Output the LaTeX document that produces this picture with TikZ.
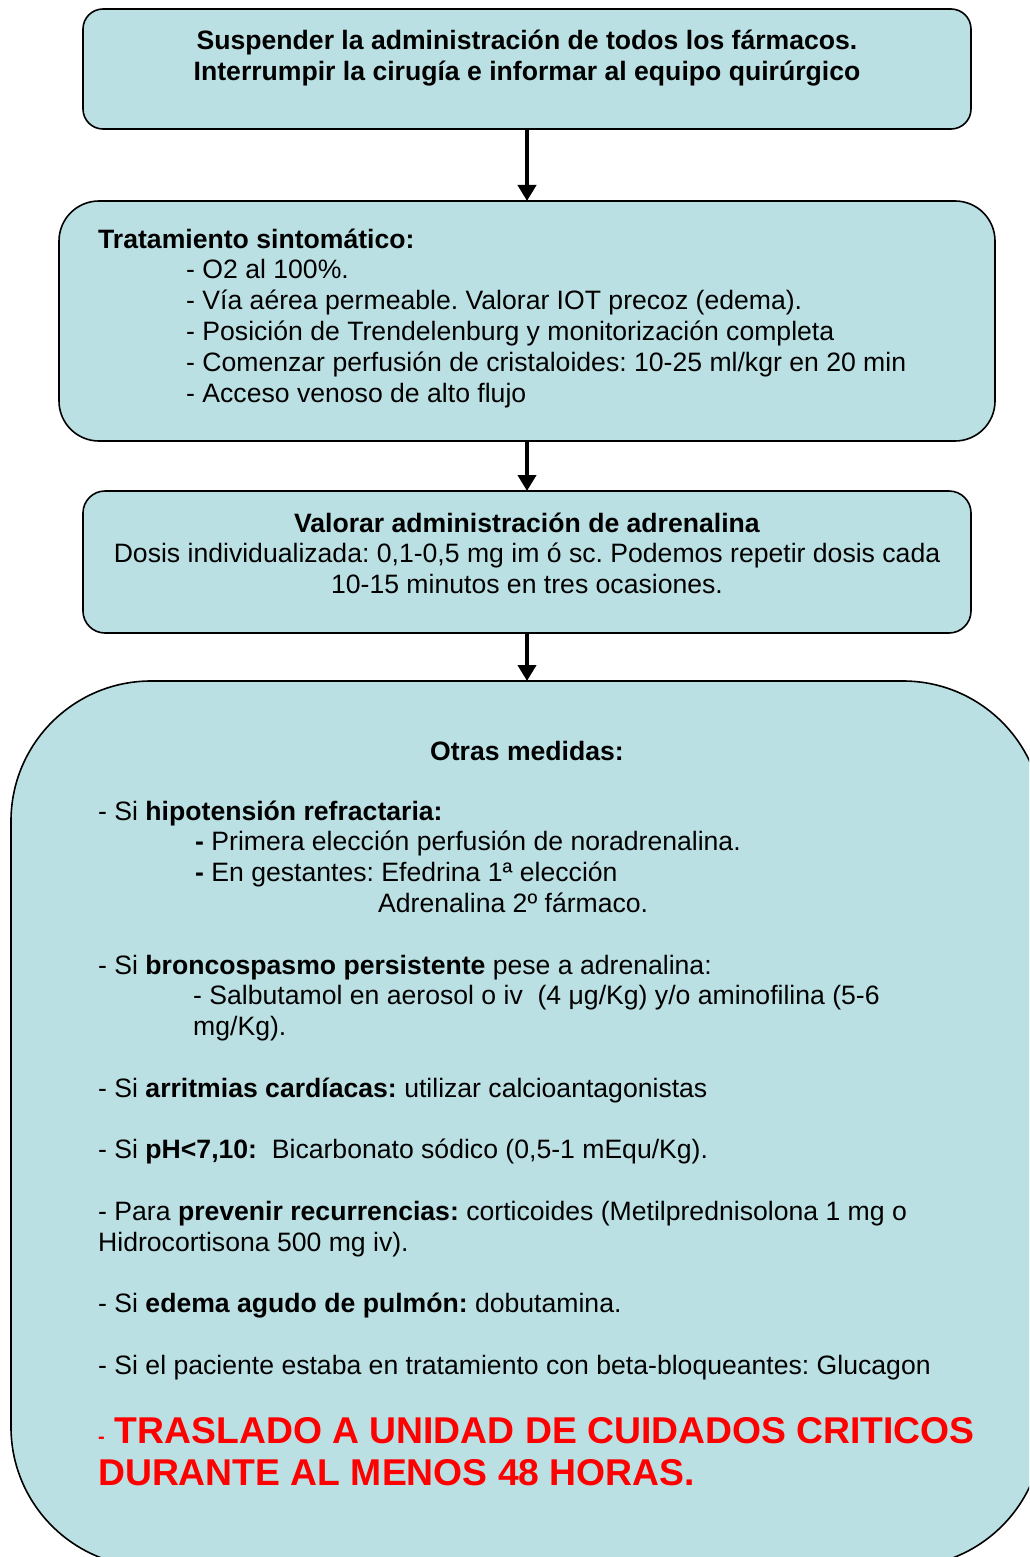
\documentclass[tikz,border=0pt]{standalone}
\usepackage{fontspec}
\setmainfont{Liberation Sans}
\usetikzlibrary{arrows.meta}
\frenchspacing

\begin{document}
\begin{tikzpicture}[x=1pt, y=-1pt,
    caja/.style={draw=black, line width=1.6pt, fill=caja_blue, inner sep=0pt, outer sep=0pt},
    texto/.style={inner sep=0pt, font=\fontsize{26.6}{30.8}\selectfont},
    flecha/.style={line width=4.5pt, -{Triangle[width=18pt,length=16pt]}}]
    \definecolor{caja_blue}{HTML}{BBE0E3}
    \definecolor{aviso_red}{HTML}{FF0000}
    %\draw[help lines] (0,0) grid (1029,1557);
    \useasboundingbox (0,0) rectangle (1029,1557);
    \clip (0,0) rectangle (1029,1557);

    % cajas
    \node[caja, rounded corners=20pt, minimum width=888pt, minimum height=120pt] (paso1) at (527,69) {};
    \node[caja, rounded corners=40pt, minimum width=936pt, minimum height=240pt] (paso2) at (527,321) {};
    \node[caja, rounded corners=22pt, minimum width=888pt, minimum height=142pt] (paso3) at (527,562) {};
    \node[caja, rounded corners=140pt, minimum width=1032pt, minimum height=886pt] (paso4) at (527,1124) {};

    \node[texto, anchor=base] (suspender) at (527,50) {
        \begin{tabular}[t]{@{}c@{}}
            \textbf{Suspender la administración de todos los fármacos.} \\
            \textbf{Interrumpir la cirugía e informar al equipo quirúrgico}
        \end{tabular}
    };
    \node[texto, anchor=base west] (sintomatico) at (98,248) {
        \begin{tabular}[t]{@{}l@{}}
            \textbf{Tratamiento sintomático:} \\
            \hspace*{88pt}- O2 al 100\%. \\
            \hspace*{88pt}- Vía aérea permeable. Valorar IOT precoz (edema). \\
            \hspace*{88pt}- Posición de Trendelenburg y monitorización completa \\
            \hspace*{88pt}- Comenzar perfusión de cristaloides: 10-25 ml/kgr en 20 min \\
            \hspace*{88pt}- Acceso venoso de alto flujo
        \end{tabular}
    };
    \node[texto, anchor=base] (adrenalina) at (527,532) {
        \begin{tabular}[t]{@{}c@{}}
            \textbf{Valorar administración de adrenalina} \\
            Dosis individualizada: 0,1-0,5 mg im ó sc. Podemos repetir dosis cada \\
            10-15 minutos en tres ocasiones.
        \end{tabular}
    };
    \node[texto, anchor=base] (otras) at (527,760) {\textbf{Otras medidas:}};
    \node[texto, anchor=base west] (medidas) at (98,820) {
        \begin{tabular}[t]{@{}l@{}}
            - Si \textbf{hipotensión refractaria:} \\
            \hspace*{97pt}\textbf{-} Primera elección perfusión de noradrenalina. \\
            \hspace*{97pt}\textbf{-} En gestantes: Efedrina 1ª elección \\
            \hspace*{280pt}Adrenalina 2º fármaco. \\
            \\
            - Si \textbf{broncospasmo persistente} pese a adrenalina: \\
            \hspace*{95pt}- Salbutamol en aerosol o iv\ \ (4 μg/Kg) y/o aminofilina (5-6 \\
            \hspace*{95pt}mg/Kg). \\
            \\
            - Si \textbf{arritmias cardíacas:} utilizar calcioantagonistas \\
            \\
            - Si \textbf{pH<7,10:}\ \ Bicarbonato sódico (0,5-1 mEqu/Kg). \\
            \\
            - Para \textbf{prevenir recurrencias:} corticoides (Metilprednisolona 1 mg o \\
            Hidrocortisona 500 mg iv). \\
            \\
            - Si \textbf{edema agudo de pulmón:} dobutamina. \\
            \\
            - Si el paciente estaba en tratamiento con beta-bloqueantes: Glucagon
        \end{tabular}
    };
    \node[inner sep=0pt, anchor=base west, text=aviso_red, font=\fontsize{37.3}{42.5}\selectfont\bfseries] (traslado) at (98,1443) {
        \begin{tabular}[t]{@{}l@{}}
            {\fontsize{20}{22}\selectfont -}\hspace{10pt}TRASLADO A UNIDAD DE CUIDADOS CRITICOS \\
            DURANTE AL MENOS 48 HORAS.
        \end{tabular}
    };

    % flechas
    \draw[flecha] (paso1.south) -- (paso2.north);
    \draw[flecha] (paso2.south) -- (paso3.north);
    \draw[flecha] (paso3.south) -- (paso4.north);

\end{tikzpicture}
\end{document}
